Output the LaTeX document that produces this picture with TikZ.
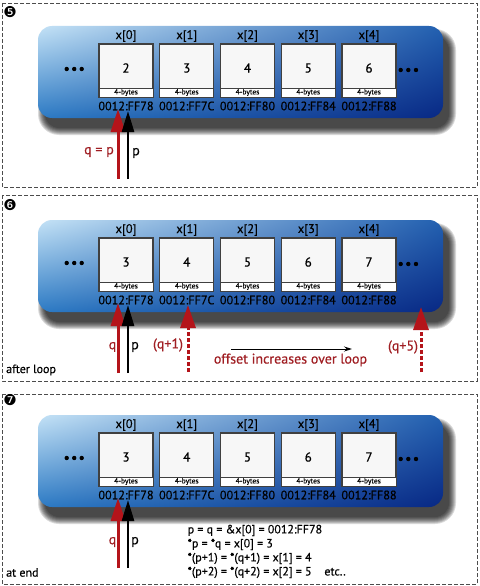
\documentclass[tikz,border=0pt]{standalone}
\usepackage{fontspec}
\setmainfont{PT Sans}[FakeBold=0.5]
\newfontfamily\dingfont{DejaVu Sans}
\usetikzlibrary{arrows.meta,shadings}
\definecolor{barUL}{RGB}{196,226,246}
\definecolor{barUR}{RGB}{34,96,176}
\definecolor{barLL}{RGB}{44,122,196}
\definecolor{barLR}{RGB}{8,40,132}
\definecolor{ptrred}{RGB}{180,20,26}
\definecolor{txtred}{RGB}{160,30,35}
\tikzset{
  frame/.style={draw=black!70, line width=0.8pt, dash pattern=on 4pt off 2pt},
  cellbox/.style={draw=black!75, line width=1.1pt, fill=black!3, minimum width=54pt, minimum height=53pt, inner sep=0pt},
  strip/.style={draw=black!75, line width=0.8pt, fill=white, minimum width=54pt, minimum height=9pt, inner sep=0pt, font=\fontsize{7.5}{7.5}\selectfont},
  idx/.style={inner sep=0pt, font=\fontsize{12.5}{13}\selectfont},
  valtxt/.style={inner sep=0pt, font=\fontsize{13}{13}\selectfont},
  addr/.style={inner sep=0pt, font=\fontsize{12.2}{13}\selectfont},
  lbl/.style={inner sep=0pt, font=\fontsize{14}{14}\selectfont},
  redlbl/.style={lbl, text=txtred},
  note/.style={inner sep=0pt, anchor=west, font=\fontsize{12}{12}\selectfont},
  num/.style={inner sep=0pt, font=\dingfont\fontsize{15}{15}\selectfont},
  qarrow/.style={draw=ptrred, line width=3pt, -{Triangle[length=23pt,width=14pt]}},
  parrow/.style={draw=black, line width=2.6pt, -{Triangle[length=21pt,width=12pt]}},
  darrow/.style={draw=ptrred, line width=3pt, dash pattern=on 4pt off 2pt, -{Triangle[length=23pt,width=15pt]}},
  dotmark/.style={fill=black, circle, inner sep=0pt, minimum size=4.4pt},
  shadowlayer/.style={fill=black, opacity=0.14},
}
\newcommand\arraybar[1]{%
  \foreach \k in {0,...,7}{
    \fill[shadowlayer, rounded corners={14pt+\k pt}] (45-\k,36-\k) rectangle (449+\k,128+\k);
  }
  \shade[upper left=barUL, upper right=barUR, lower left=barLL, lower right=barLR, rounded corners=14pt] (38,26) rectangle (443,118);
  \foreach \i/\ad in {0/FF78,1/FF7C,2/FF80,3/FF84,4/FF88}{
    \pgfmathsetmacro\cx{126+60.75*\i}
    \pgfmathtruncatemacro\v{#1+\i}
    \node[cellbox] (c\i) at (\cx,70.5) {};
    \node[strip] (s\i) at (\cx,92.5) {4-bytes};
    \node[valtxt] (v\i) at (\cx,68) {\v};
    \node[idx] (x\i) at (\cx,36) {x[\i]};
    \node[addr] (a\i) at (\cx,106) {0012:\ad};
  }
  \node[dotmark] (dl1) at (66.7,69) {};
  \node[dotmark] (dl2) at (74.2,69) {};
  \node[dotmark] (dl3) at (81.7,69) {};
  \node[dotmark] (dr1) at (400.7,70) {};
  \node[dotmark] (dr2) at (408.3,70) {};
  \node[dotmark] (dr3) at (416,70) {};
  \coordinate (qtail) at (118,179);
  \coordinate (qtip) at (118,109);
  \coordinate (ptail) at (128,179);
  \coordinate (ptip) at (128,111);
  \draw[qarrow] (qtail) -- (qtip);
  \draw[parrow] (ptail) -- (ptip);
}
\begin{document}
\begin{tikzpicture}[x=1pt,y=-1pt]
\useasboundingbox (0,0) rectangle (479,586);
\fill[white] (0,0) rectangle (479,586);
% frames
\draw[frame] (2,3) rectangle (477,187);
\draw[frame] (2,195) rectangle (477,381);
\draw[frame] (2,394) rectangle (477,584);
\node[num] (n5) at (10,12) {❺};
\node[num] (n6) at (10,205) {❻};
\node[num] (n7) at (10,400) {❼};
% panel 1
\begin{scope}[name prefix=a-]
  \arraybar{2}
  \node[redlbl] (ql) at (99,152) {q = p};
  \node[lbl] (pl) at (136,153) {p};
\end{scope}
% panel 2
\begin{scope}[yshift=-194pt, name prefix=b-]
  \arraybar{3}
  \node[redlbl] (ql) at (112.5,153) {q};
  \node[lbl] (pl) at (135,153) {p};
  \coordinate (q1tail) at (188,178);
  \coordinate (q1tip) at (188,111);
  \coordinate (q5tail) at (421,178);
  \coordinate (q5tip) at (421,113);
  \draw[darrow] (q1tail) -- (q1tip);
  \draw[darrow] (q5tail) -- (q5tip);
  \node[redlbl] (q1l) at (168,151) {(q+1)};
  \node[redlbl] (q5l) at (403,153) {(q+5)};
  \coordinate (ofs) at (231,155);
  \coordinate (ofe) at (352,155);
  \draw[line width=0.9pt, -{Stealth[length=8pt,width=5pt]}] (ofs) -- (ofe);
  \node[redlbl] (oft) at (290.5,166) {offset increases over loop};
  \node[note] (al) at (6,176) {after loop};
\end{scope}
% panel 3
\begin{scope}[yshift=-389pt, name prefix=c-]
  \arraybar{3}
  \node[redlbl] (ql) at (112.5,153) {q};
  \node[lbl] (pl) at (135,153) {p};
  \node[note] (t1) at (187.5,141.5) {p = q = \&x[0] = 0012:FF78};
  \node[note] (t2) at (187.5,155.5) {*p = *q = x[0] = 3};
  \node[note] (t3) at (187.5,169.5) {*(p+1) = *(q+1) = x[1] = 4};
  \node[note] (t4) at (187.5,183.5) {*(p+2) = *(q+2) = x[2] = 5\hspace{0.8em} etc..};
  \node[note] (ae) at (6,183.5) {at end};
\end{scope}
\end{tikzpicture}
\end{document}
